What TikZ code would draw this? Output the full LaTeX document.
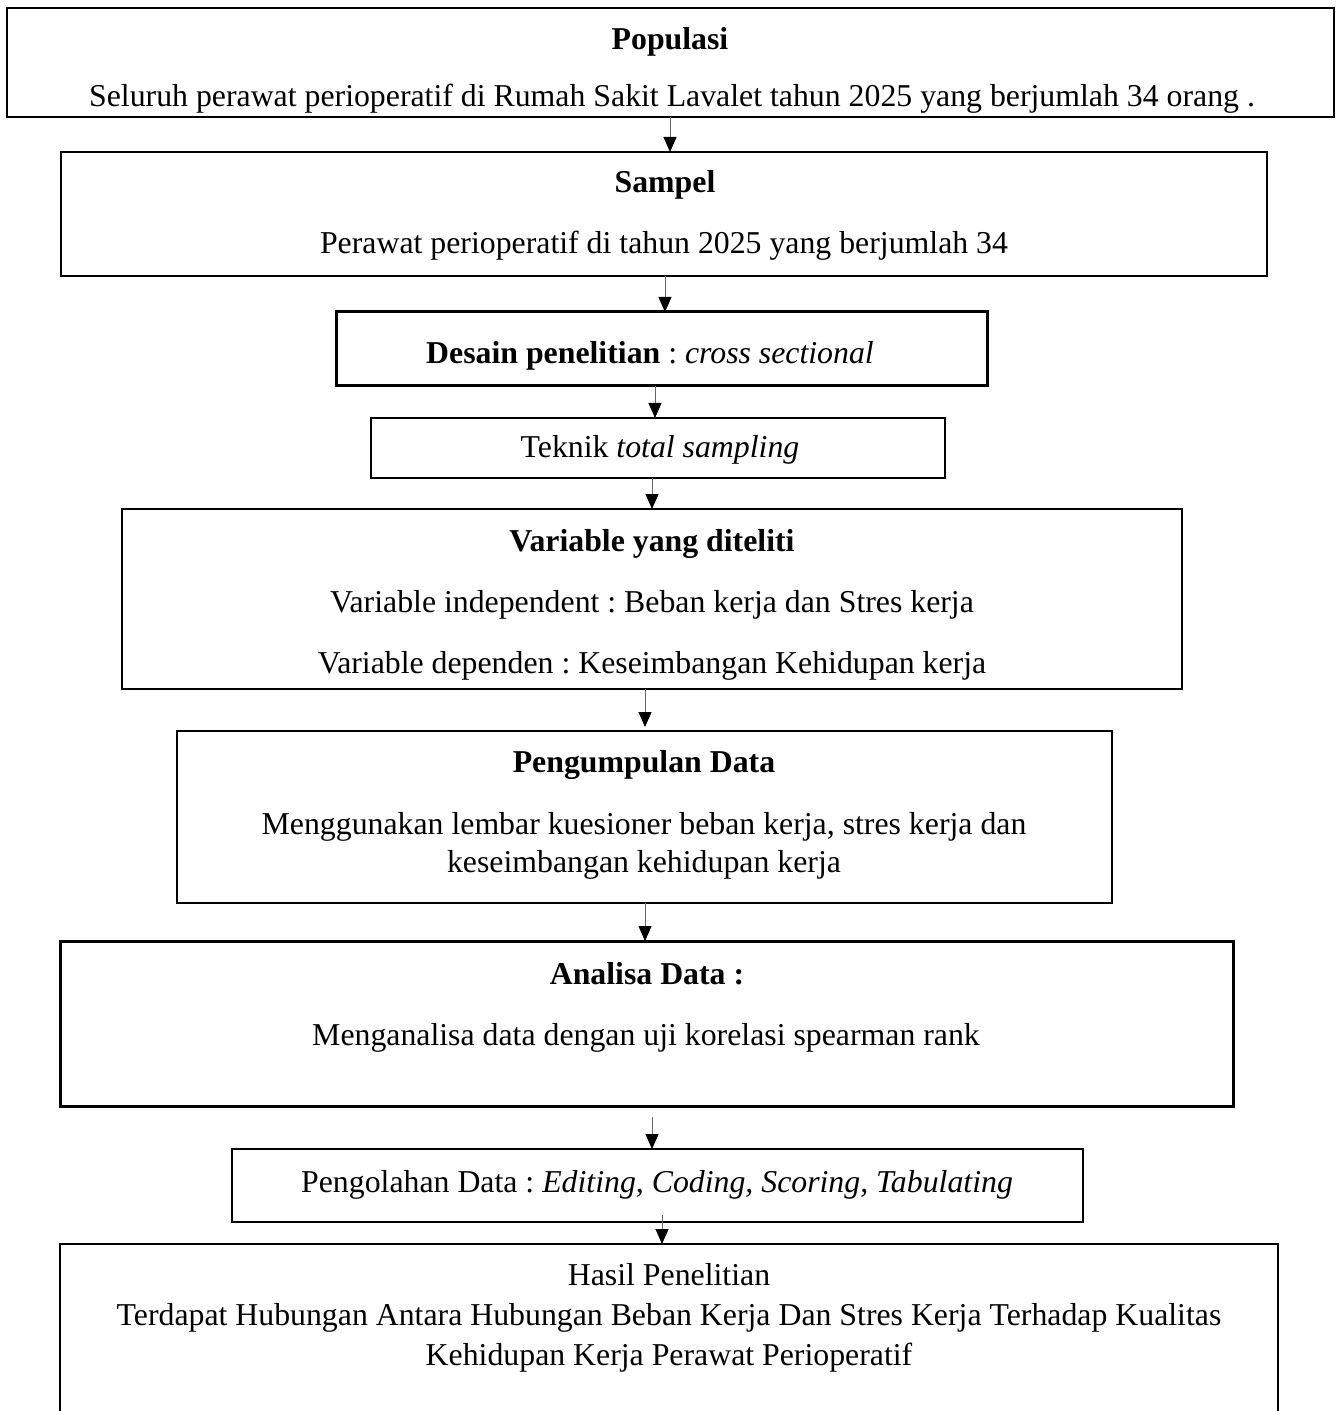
\documentclass[tikz,border=0pt]{standalone}
\usepackage{fontspec}
\setmainfont{Liberation Serif}
\usetikzlibrary{arrows.meta}
\frenchspacing
\begin{document}
\begin{tikzpicture}[x=0.5pt,y=-0.5pt,
  box/.style={draw=black, line width=0.9pt, inner sep=0pt, outer sep=0pt},
  thickbox/.style={box, line width=1.5pt},
  txt/.style={anchor=base, inner sep=0pt, font=\fontsize{15.9}{19}\selectfont\frenchspacing},
  arr/.style={draw=black!60, line width=0.5pt, -{Triangle[length=7.5pt,width=6.5pt,black]}}]
\clip (0,0) rectangle (1342,1411);
% boxes
\node[box, minimum width=663.5pt, minimum height=54.5pt] (pop) at (670.5,62.5) {};
\node[box, minimum width=603pt, minimum height=62pt] (samp) at (664,214) {};
\node[thickbox, minimum width=325.5pt, minimum height=37pt] (des) at (661.5,349) {};
\node[box, minimum width=287pt, minimum height=30pt] (tek) at (658,448) {};
\node[box, minimum width=530pt, minimum height=90pt] (var) at (652,599) {};
\node[box, minimum width=467.5pt, minimum height=86pt] (peng) at (644.5,817) {};
\node[thickbox, minimum width=586.5pt, minimum height=82.5pt] (anal) at (646.5,1023.5) {};
\node[box, minimum width=425.5pt, minimum height=36.5pt] (olah) at (657.5,1185.5) {};
\node[box, minimum width=609pt, minimum height=95pt] (hasil) at (669,1339) {};
% texts
\node[txt] (t1) at (670,50) {\textbf{Populasi}};
\node[txt] (t2) at (672,107) {Seluruh perawat perioperatif di Rumah Sakit Lavalet tahun 2025 yang berjumlah 34 orang .};
\node[txt] (t3) at (665,193) {\textbf{Sampel}};
\node[txt] (t4) at (664,254) {Perawat perioperatif di tahun 2025 yang berjumlah 34};
\node[txt] (t5) at (650,364) {\textbf{Desain penelitian} : \textit{cross sectional}};
\node[txt] (t6) at (660,458) {Teknik \textit{total sampling}};
\node[txt] (t7) at (652,551) {\textbf{Variable yang diteliti}};
\node[txt] (t8) at (652,612) {Variable independent : Beban kerja dan Stres kerja};
\node[txt] (t9) at (652,673) {Variable dependen : Keseimbangan Kehidupan kerja};
\node[txt] (t10) at (644,772) {\textbf{Pengumpulan Data}};
\node[txt] (t11) at (644,834) {Menggunakan lembar kuesioner beban kerja, stres kerja dan};
\node[txt] (t12) at (644,872) {keseimbangan kehidupan kerja};
\node[txt] (t13) at (647,984) {\textbf{Analisa Data :}};
\node[txt] (t14) at (646,1045) {Menganalisa data dengan uji korelasi spearman rank};
\node[txt] (t15) at (657,1192) {Pengolahan Data : \textit{Editing, Coding, Scoring, Tabulating}};
\node[txt] (t16) at (669,1285) {Hasil Penelitian};
\node[txt] (t17) at (669,1325) {Terdapat Hubungan Antara Hubungan Beban Kerja Dan Stres Kerja Terhadap Kualitas};
\node[txt] (t18) at (669,1365) {Kehidupan Kerja Perawat Perioperatif};
% arrows
\draw[arr] (670,0 |- pop.south) -- (670,0 |- samp.north);
\draw[arr] (665,0 |- samp.south) -- (665,0 |- des.north);
\draw[arr] (655,0 |- des.south) -- (655,0 |- tek.north);
\draw[arr] (652,0 |- tek.south) -- (652,0 |- var.north);
\draw[arr] (645,0 |- var.south) -- ([yshift=2pt]645,0 |- peng.north);
\draw[arr] (645,0 |- peng.south) -- (645,0 |- anal.north);
\draw[arr] ([yshift=-5.5pt]652,0 |- anal.south) -- (652,0 |- olah.north);
\draw[arr] ([yshift=3.5pt]662,0 |- olah.south) -- (662,0 |- hasil.north);
\end{tikzpicture}
\end{document}
